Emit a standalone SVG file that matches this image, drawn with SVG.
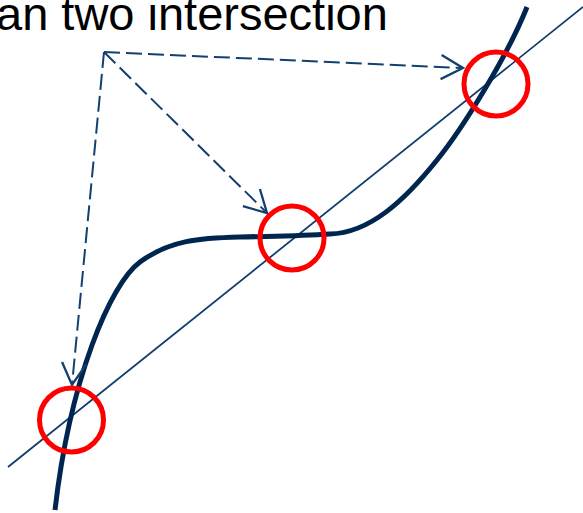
<svg xmlns="http://www.w3.org/2000/svg" width="583" height="513" viewBox="0 0 583 513">
  <defs>
    <style>
      .caption { font-family: "Liberation Sans", Arial, sans-serif; font-size: 47px; fill: #000000; }
      .curve { fill: none; stroke: #002650; stroke-width: 5; stroke-linecap: butt; }
      .line { fill: none; stroke: #0E3A6C; stroke-width: 1.75; }
      .pointer { fill: none; stroke: #12406F; stroke-width: 2; stroke-dasharray: 16 6; marker-end: url(#openArrow); }
      .ring { fill: none; stroke: #FF0000; stroke-width: 5; }
    </style>
    <marker id="openArrow" markerUnits="userSpaceOnUse" markerWidth="30" markerHeight="30" viewBox="-22 -13 26 26" refX="0" refY="0" orient="auto">
      <path d="M-19,-10.5 L0,0 L-19,10.5" fill="none" stroke="#12406F" stroke-width="2" stroke-linejoin="miter"/>
    </marker>
  </defs>

  <rect width="583" height="513" fill="#FFFFFF"/>

  <!-- caption, running off the top-left edge -->
  <g id="caption">
    <text class="caption" x="-4" y="30">an two intersection</text>
  </g>

  <!-- straight line and the cubic-like curve -->
  <g id="straight-line">
    <line class="line" x1="8" y1="467" x2="583" y2="7"/>
  </g>
  <g id="curve">
    <path class="curve" d="M55,510 C70,380 110,284 140,262 C170,240 200,238 240,237 C280,236 300,236 330,234 C370,233 405,200 437,160 C463,128 508,55 527,7"/>
  </g>

  <!-- dashed pointers from the caption to each intersection -->
  <g id="connectors">
    <line class="pointer" x1="104" y1="52" x2="463" y2="68"/>
    <line class="pointer" x1="104" y1="52" x2="267" y2="213"/>
    <line class="pointer" x1="104" y1="52" x2="72" y2="385"/>
  </g>

  <!-- intersection markers -->
  <g id="ring-top">
    <circle class="ring" cx="496" cy="84" r="32"/>
  </g>
  <g id="ring-middle">
    <circle class="ring" cx="292" cy="238" r="32"/>
  </g>
  <g id="ring-bottom">
    <circle class="ring" cx="71.5" cy="420" r="32"/>
  </g>
</svg>
